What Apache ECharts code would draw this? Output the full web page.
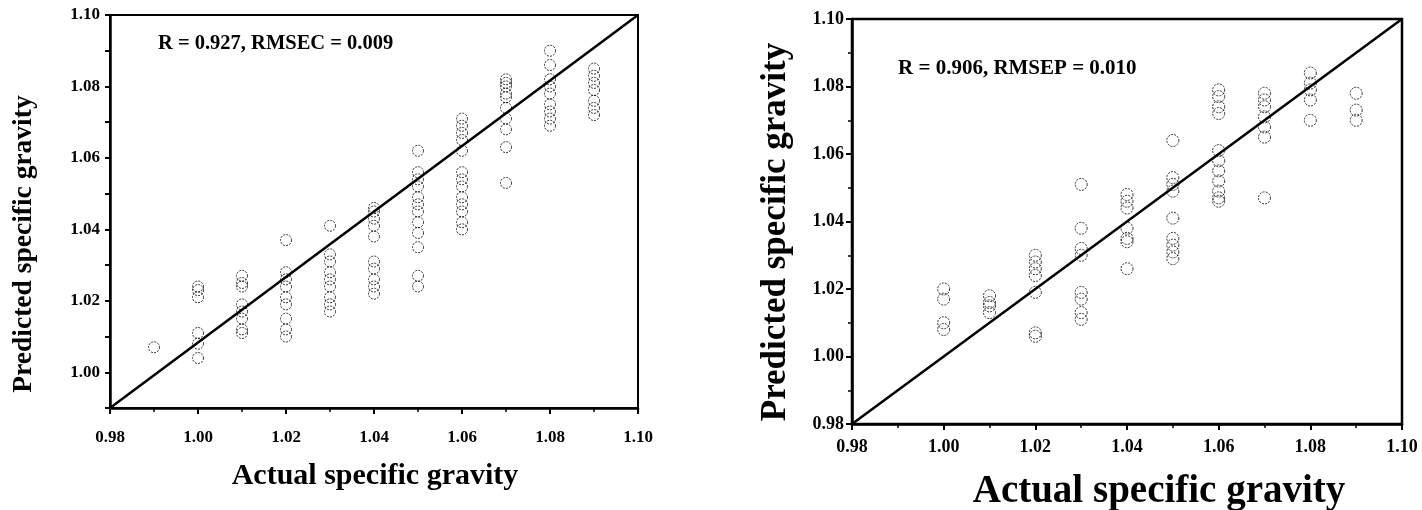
<!DOCTYPE html>
<html>
<head>
<meta charset="utf-8">
<script src="https://cdn.jsdelivr.net/npm/echarts/dist/echarts.min.js"></script>
<style>
  html, body { margin: 0; padding: 0; background: #fff; }
  #chart { width: 1422px; height: 510px; }
</style>
</head>
<body>
<div id="chart"></div>
<script>
// Calibration set: actual specific gravity levels and the predicted values at each level
const calActual = [0.99, 1.00, 1.01, 1.02, 1.03, 1.04, 1.05, 1.06, 1.07, 1.08, 1.09];
const calPredicted = [
  [1.007],
  [1.004, 1.008, 1.011, 1.021, 1.023, 1.024],
  [1.011, 1.012, 1.015, 1.017, 1.019, 1.024, 1.025, 1.027],
  [1.010, 1.012, 1.015, 1.019, 1.021, 1.024, 1.026, 1.028, 1.037],
  [1.017, 1.019, 1.021, 1.024, 1.026, 1.028, 1.031, 1.033, 1.041],
  [1.022, 1.024, 1.026, 1.029, 1.031, 1.038, 1.041, 1.043, 1.045, 1.046],
  [1.024, 1.027, 1.035, 1.039, 1.042, 1.045, 1.047, 1.049, 1.052, 1.054, 1.056, 1.062],
  [1.040, 1.042, 1.045, 1.047, 1.049, 1.052, 1.054, 1.056, 1.062, 1.065, 1.067, 1.069, 1.071],
  [1.053, 1.063, 1.068, 1.071, 1.074, 1.077, 1.078, 1.080, 1.081, 1.082],
  [1.069, 1.071, 1.073, 1.075, 1.078, 1.080, 1.082, 1.086, 1.090],
  [1.072, 1.074, 1.076, 1.079, 1.081, 1.083, 1.085]
];

// Validation (prediction) set
const valActual = [1.00, 1.01, 1.02, 1.03, 1.04, 1.05, 1.06, 1.07, 1.08, 1.09];
const valPredicted = [
  [1.008, 1.010, 1.017, 1.020],
  [1.013, 1.015, 1.016, 1.018],
  [1.006, 1.007, 1.019, 1.024, 1.026, 1.028, 1.030],
  [1.011, 1.013, 1.017, 1.019, 1.030, 1.032, 1.038, 1.051],
  [1.026, 1.034, 1.035, 1.038, 1.044, 1.046, 1.048],
  [1.029, 1.031, 1.033, 1.035, 1.041, 1.049, 1.051, 1.053, 1.064],
  [1.046, 1.047, 1.049, 1.052, 1.055, 1.058, 1.061, 1.072, 1.074, 1.077, 1.079],
  [1.047, 1.065, 1.068, 1.071, 1.074, 1.076, 1.078],
  [1.070, 1.076, 1.079, 1.081, 1.084],
  [1.070, 1.073, 1.078]
];

// Axis ranges
const calXRange = [0.98, 1.10];
const calYRange = [0.99, 1.10];
const valXRange = [0.98, 1.10];
const valYRange = [0.98, 1.10];

// Fit statistics shown in each panel
const calStats = 'R = 0.927, RMSEC = 0.009';
const valStats = 'R = 0.906, RMSEP = 0.010';
const xTitle = 'Actual specific gravity';
const yTitle = 'Predicted specific gravity';

const FONT = '"Liberation Serif", "Times New Roman", serif';

function toPoints(xs, ys) {
  const pts = [];
  xs.forEach((x, i) => ys[i].forEach(y => pts.push([x, y])));
  return pts;
}

// Only even hundredths carry a label
function evenLabel(v) {
  const h = Math.round(v * 100);
  return h % 2 === 0 ? v.toFixed(2) : '';
}

function valueAxis(idx, range, interval, labelSize, labelMargin, tickLen, minor) {
  return {
    type: 'value', gridIndex: idx, min: range[0], max: range[1], interval: interval,
    axisLine: { show: true, onZero: false, lineStyle: { color: '#000', width: 2.5 } },
    axisTick: { show: true, length: tickLen, lineStyle: { color: '#000', width: 2 } },
    minorTick: minor ? { show: true, splitNumber: 2, length: 4, lineStyle: { color: '#000', width: 1.5 } } : { show: false },
    splitLine: { show: false },
    axisLabel: {
      fontFamily: FONT, fontWeight: 'bold', fontSize: labelSize, color: '#000', margin: labelMargin,
      formatter: evenLabel
    }
  };
}

const markerStyle = {
  color: 'rgba(0,0,0,0)', borderColor: '#000', borderWidth: 1, borderType: [2, 1.2]
};

const chart = echarts.init(document.getElementById('chart'), null, { renderer: 'canvas' });

chart.setOption({
  animation: false,
  backgroundColor: '#fff',
  grid: [
    { left: 110, top: 15, width: 528, height: 393, show: true, borderColor: '#000', borderWidth: 2, backgroundColor: 'transparent' },
    { left: 852, top: 19, width: 550, height: 405, show: true, borderColor: '#000', borderWidth: 2.5, backgroundColor: 'transparent' }
  ],
  xAxis: [
    valueAxis(0, calXRange, 0.02, 17, 21, 6, true),
    valueAxis(1, valXRange, 0.02, 18, 14, 6, true)
  ],
  yAxis: [
    valueAxis(0, calYRange, 0.01, 17, 10, 5, false),
    valueAxis(1, valYRange, 0.02, 18, 8, 6, true)
  ],
  series: [
    {
      type: 'line', xAxisIndex: 0, yAxisIndex: 0, symbol: 'none',
      data: [[calXRange[0], calYRange[0]], [calXRange[1], calYRange[1]]],
      lineStyle: { color: '#000', width: 2.5 }, z: 3
    },
    {
      type: 'scatter', xAxisIndex: 0, yAxisIndex: 0, symbol: 'circle', symbolSize: 11,
      data: toPoints(calActual, calPredicted), itemStyle: markerStyle, z: 2
    },
    {
      type: 'line', xAxisIndex: 1, yAxisIndex: 1, symbol: 'none',
      data: [[valXRange[0], valYRange[0]], [valXRange[1], valYRange[1]]],
      lineStyle: { color: '#000', width: 2.5 }, z: 3
    },
    {
      type: 'scatter', xAxisIndex: 1, yAxisIndex: 1, symbol: 'circle', symbolSize: 12,
      data: toPoints(valActual, valPredicted), itemStyle: markerStyle, z: 2
    }
  ],
  graphic: [
    { type: 'text', left: 158, top: 33, style: { text: calStats, font: 'bold 20.5px ' + FONT, fill: '#000' } },
    { type: 'text', left: 898, top: 58, style: { text: valStats, font: 'bold 21px ' + FONT, fill: '#000' } },
    { type: 'text', x: 375, y: 476, style: { text: xTitle, font: 'bold 30px ' + FONT, fill: '#000', align: 'center', verticalAlign: 'middle' } },
    { type: 'text', x: 1159, y: 492, style: { text: xTitle, font: 'bold 39px ' + FONT, fill: '#000', align: 'center', verticalAlign: 'middle' } },
    { type: 'text', x: 24, y: 244, rotation: Math.PI / 2, style: { text: yTitle, font: 'bold 27.5px ' + FONT, fill: '#000', align: 'center', verticalAlign: 'middle' } },
    { type: 'text', x: 776, y: 232, rotation: Math.PI / 2, style: { text: yTitle, font: 'bold 35px ' + FONT, fill: '#000', align: 'center', verticalAlign: 'middle' } }
  ]
});
</script>
</body>
</html>
